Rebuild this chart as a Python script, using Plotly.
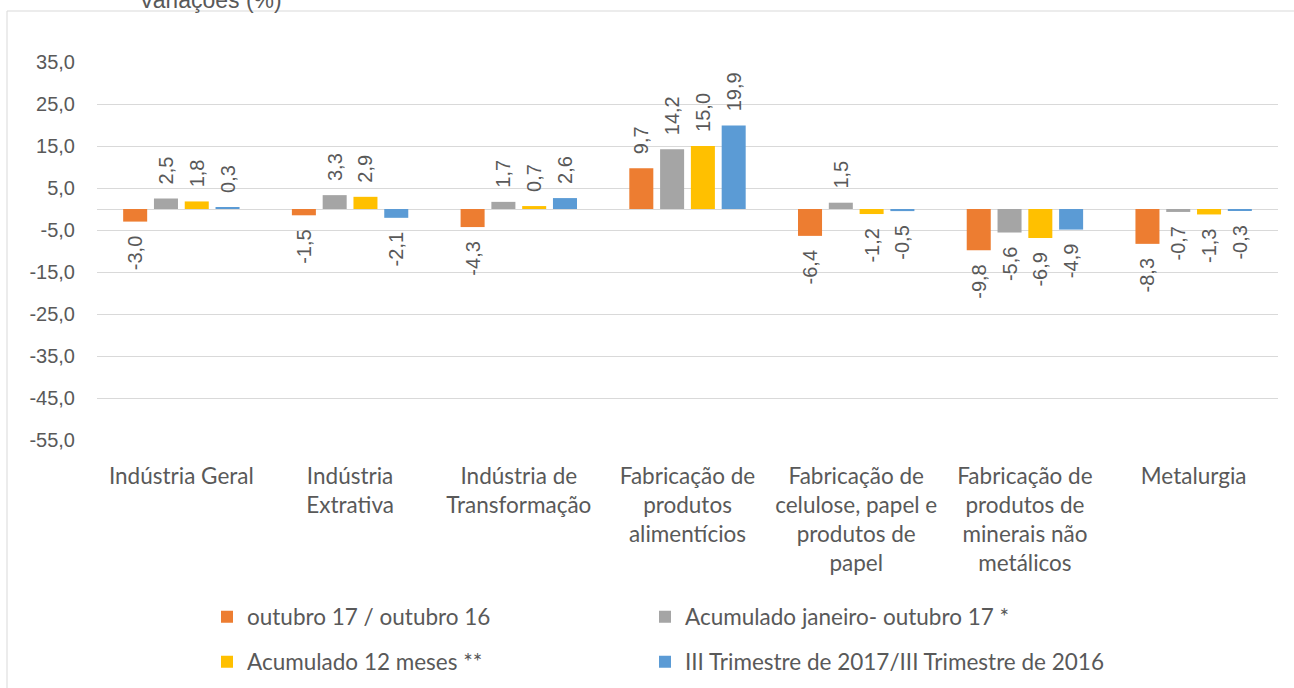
import plotly.graph_objects as go

categories = [
    "Indústria Geral",
    "Indústria<br>Extrativa",
    "Indústria de<br>Transformação",
    "Fabricação de<br>produtos<br>alimentícios",
    "Fabricação de<br>celulose, papel e<br>produtos de<br>papel",
    "Fabricação de<br>produtos de<br>minerais não<br>metálicos",
    "Metalurgia",
]
series_names = [
    "outubro 17 / outubro 16",
    "Acumulado janeiro- outubro 17 *",
    "Acumulado 12 meses **",
    "III Trimestre de 2017/III Trimestre de 2016",
]
outubro = [-3.0, -1.5, -4.3, 9.7, -6.4, -9.8, -8.3]
acum_jan_out = [2.5, 3.3, 1.7, 14.2, 1.5, -5.6, -0.7]
acum_12m = [1.8, 2.9, 0.7, 15.0, -1.2, -6.9, -1.3]
trimestre = [0.3, -2.1, 2.6, 19.9, -0.5, -4.9, -0.3]
y_ticks = [35, 25, 15, 5, -5, -15, -25, -35, -45, -55]

colors = ["#ED7D31", "#A5A5A5", "#FFC000", "#5B9BD5"]
legend_ids = ["legend", "legend2", "legend3", "legend4"]
values = [outubro, acum_jan_out, acum_12m, trimestre]

TXT = "#595959"
PAD = "\u00a0\u00a0"


def fmt(v):
    return f"{v:.1f}".replace(".", ",")


def label(v):
    s = fmt(v)
    return PAD + s if v >= 0 else s + PAD


fig = go.Figure()
for name, vals, col, lg in zip(series_names, values, colors, legend_ids):
    fig.add_trace(go.Bar(
        x=categories, y=vals, name=name, showlegend=True,
        marker=dict(color=col, line=dict(width=0)),
        text=[label(v) for v in vals], texttemplate="%{text}",
        textposition="outside",
        textangle=-90, constraintext="none", cliponaxis=False,
        textfont=dict(family="Liberation Sans", size=20, color=TXT),
        legend=lg,
    ))

L, R, T, B = 97, 1278, 62, 440
W, H = 1294, 688
pw, ph = R - L, B - T


def px_x(x):
    return (x - L) / pw


def px_y(y):
    return (B - y) / ph


def leg(x, y):
    return dict(orientation="h", x=px_x(x), xanchor="left",
                y=px_y(y), yanchor="middle", visible=True,
                font=dict(family="Lato", size=22.5, color=TXT),
                bgcolor="rgba(0,0,0,0)")


fig.update_layout(
    width=W, height=H,
    margin=dict(l=L, r=W - R, t=T, b=H - B, autoexpand=False),
    paper_bgcolor="white", plot_bgcolor="white",
    separators=",.", showlegend=True,
    barmode="group", bargap=0.27, bargroupgap=0.22,
    font=dict(family="Lato", size=22.5, color=TXT),
    xaxis=dict(showgrid=False, showline=False, ticks="",
               tickfont=dict(family="Lato", size=22.5, color=TXT),
               ticklabelstandoff=20, fixedrange=True),
    yaxis=dict(range=[-55, 35], tickvals=y_ticks,
               ticktext=[fmt(v) for v in y_ticks],
               showgrid=True, gridcolor="#D9D9D9", gridwidth=1,
               zeroline=True, zerolinecolor="#D9D9D9", zerolinewidth=1,
               showline=False, ticks="",
               tickfont=dict(family="Liberation Sans", size=20, color=TXT),
               ticklabelstandoff=21),
    legend=leg(207, 617),
    legend2=leg(645, 617),
    legend3=leg(207, 662),
    legend4=leg(645, 662),
    shapes=[dict(type="rect", xref="paper", yref="paper",
                 x0=px_x(7), x1=px_x(1310), y0=px_y(700), y1=px_y(11),
                 line=dict(color="#D9D9D9", width=1), layer="below")],
    annotations=[dict(text="Variações (%)", xref="paper", yref="paper",
                      x=px_x(210), y=px_y(0), xanchor="center", yanchor="middle",
                      showarrow=False,
                      font=dict(family="Liberation Sans", size=23, color=TXT))],
)

fig.write_html(
    "out.html",
    config={"displayModeBar": False},
    post_script="document.body.style.margin='0';document.body.style.overflow='hidden';",
)
